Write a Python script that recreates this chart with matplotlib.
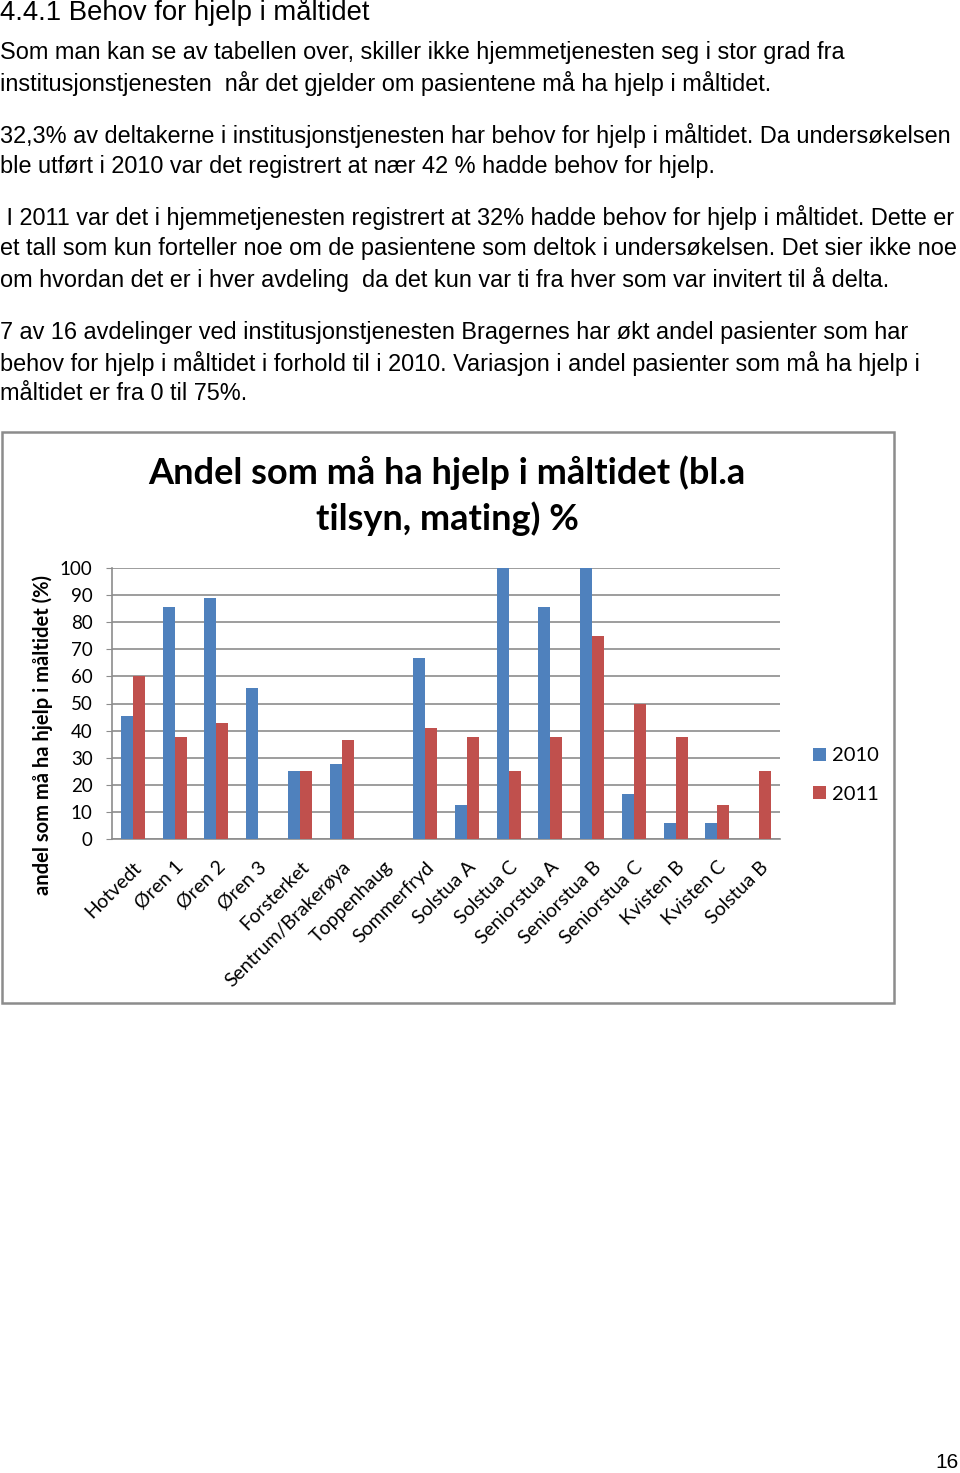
import numpy as np
import matplotlib.pyplot as plt
from matplotlib.patches import Rectangle

W, H = 960, 1473

units = ['Hotvedt', 'Øren 1', 'Øren 2', 'Øren 3', 'Forsterket', 'Sentrum/Brakerøya',
         'Toppenhaug', 'Sommerfryd', 'Solstua A', 'Solstua C', 'Seniorstua A',
         'Seniorstua B', 'Seniorstua C', 'Kvisten B', 'Kvisten C', 'Solstua B']
v2010 = [45.5, 85.5, 88.9, 55.6, 25, 27.8, 0, 66.7, 12.5, 100, 85.5, 100, 16.7, 6, 6, 0]
v2011 = [60, 37.5, 42.9, 0, 25, 36.4, 0, 40.8, 37.5, 25, 37.5, 75, 50, 37.5, 12.5, 25]
yticks = list(range(0, 101, 10))

heading = '4.4.1 Behov for hjelp i måltidet'
body = [
    (52, 'Som man kan se av tabellen over, skiller ikke hjemmetjenesten seg i stor grad fra'),
    (83, 'institusjonstjenesten  når det gjelder om pasientene må ha hjelp i måltidet.'),
    (135, '32,3% av deltakerne i institusjonstjenesten har behov for hjelp i måltidet. Da undersøkelsen'),
    (166, 'ble utført i 2010 var det registrert at nær 42 % hadde behov for hjelp.'),
    (218, ' I 2011 var det i hjemmetjenesten registrert at 32% hadde behov for hjelp i måltidet. Dette er'),
    (249, 'et tall som kun forteller noe om de pasientene som deltok i undersøkelsen. Det sier ikke noe'),
    (280, 'om hvordan det er i hver avdeling  da det kun var ti fra hver som var invitert til å delta.'),
    (332, '7 av 16 avdelinger ved institusjonstjenesten Bragernes har økt andel pasienter som har'),
    (363, 'behov for hjelp i måltidet i forhold til i 2010. Variasjon i andel pasienter som må ha hjelp i'),
    (394, 'måltidet er fra 0 til 75%.'),
]

BLUE = '#4F81BD'
RED = '#C0504D'


def fx(x):
    return x / W


def fy(y):
    return 1 - y / H


fig = plt.figure(figsize=(W / 100, H / 100), dpi=100)
fig.patch.set_facecolor('white')

# page text
fig.text(fx(0), fy(12), heading, fontsize=19.8, family='Liberation Sans', va='center', ha='left')
for y, line in body:
    fig.text(fx(0), fy(y), line, fontsize=16.9, family='Liberation Sans', va='center', ha='left')
fig.text(fx(959), fy(1462), '16', fontsize=15, family='Liberation Sans', va='center', ha='right')

# chart frame
fig.patches.append(Rectangle((fx(2), fy(1003)), fx(892), (1003 - 432) / H,
                             transform=fig.transFigure, fill=False,
                             edgecolor='#8C8C8C', linewidth=1.8))

ax = fig.add_axes([fx(112), fy(839), fx(668), (839 - 568) / H])
x = np.arange(len(units))
bw = 0.286
ax.bar(x - bw / 2, v2010, bw, color=BLUE, label='2010', zorder=3)
ax.bar(x + bw / 2, v2011, bw, color=RED, label='2011', zorder=3)

ax.set_xlim(-0.5, len(units) - 0.5)
ax.set_ylim(0, 100)
ax.set_yticks(yticks)
ax.yaxis.grid(True, color='#8C8C8C', linewidth=1.2, zorder=0)
ax.set_axisbelow(True)
for s in ['top', 'right']:
    ax.spines[s].set_visible(False)
for s in ['left', 'bottom']:
    ax.spines[s].set_color('#8C8C8C')
    ax.spines[s].set_linewidth(1.2)
ax.tick_params(axis='y', length=4, color='#8C8C8C', labelsize=13.5, pad=10)
ax.tick_params(axis='x', length=0, pad=14)
for t in ax.get_yticklabels():
    t.set_family('Lato')
ax.set_xticks(x)
ax.set_xticklabels(units, rotation=45, ha='right', rotation_mode='anchor',
                   fontsize=14, family='Lato')
ax.set_ylabel('andel som må ha hjelp i måltidet (%)', fontsize=14.5,
              fontweight='bold', family='Lato')
ax.yaxis.set_label_coords((53 - 112) / 668, (839 - 735) / 271)

fig.text(fx(447), fy(473), 'Andel som må ha hjelp i måltidet (bl.a', fontsize=26,
         fontweight='bold', family='Lato', ha='center', va='center')
fig.text(fx(447), fy(519), 'tilsyn, mating) %', fontsize=26,
         fontweight='bold', family='Lato', ha='center', va='center')

leg = ax.legend(loc='center left', bbox_to_anchor=((795 - 112) / 668, (839 - 775) / 271),
                frameon=False, prop={'family': 'Lato', 'size': 14.5},
                handlelength=0.65, handleheight=0.65, labelspacing=1.05, handletextpad=0.3)

fig.savefig('out.png', dpi=100, facecolor='white')
